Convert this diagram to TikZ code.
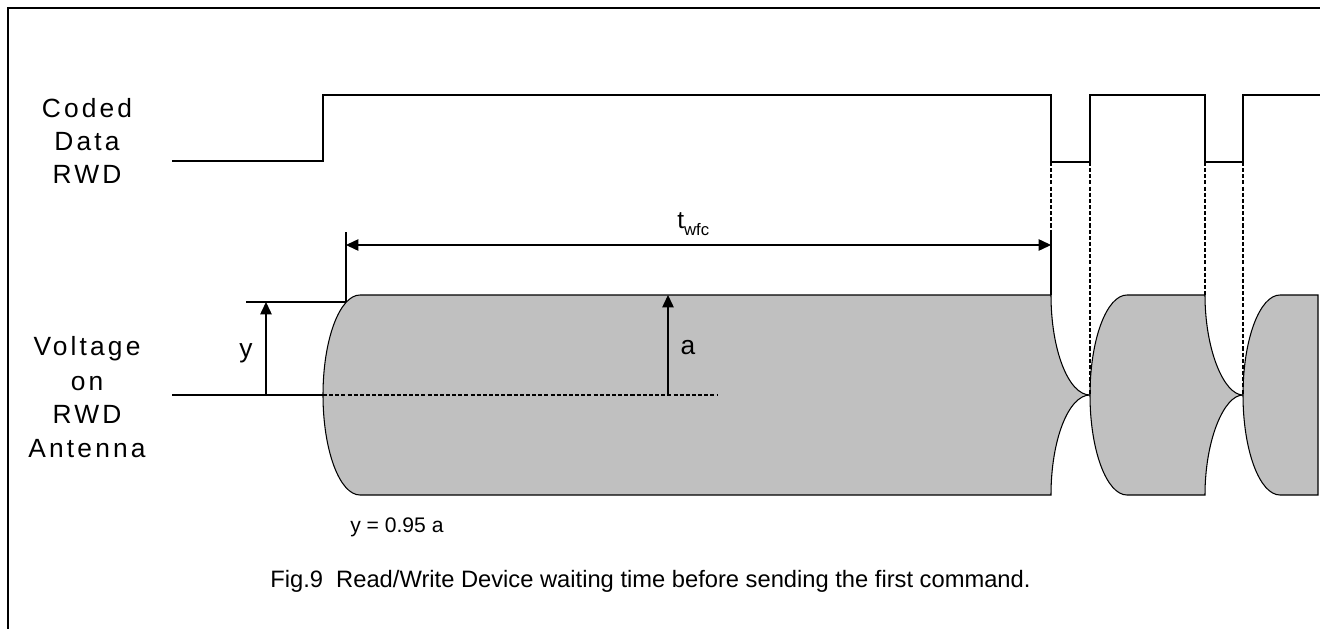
\documentclass[tikz,border=0pt]{standalone}
\usepackage{fontspec}
\setmainfont{Liberation Sans}
\newfontfamily\spacedfont[LetterSpace=12]{Liberation Sans}
\usetikzlibrary{arrows.meta}
\definecolor{envgray}{RGB}{192,192,192}
\tikzset{
	sig/.style={line width=0.6pt},
	dimarrow/.style={sig, -{Triangle[length=7pt,width=6.5pt]}},
	dimboth/.style={sig, {Triangle[length=7pt,width=6.5pt]}-{Triangle[length=7pt,width=6.5pt]}},
	guide/.style={sig, dash pattern=on 2.3pt off 1.2pt},
	envelope/.style={sig, fill=envgray},
	sidelabel/.style={anchor=base, inner sep=0pt, font=\spacedfont\fontsize{15}{18}\selectfont},
	dimlabel/.style={anchor=base, inner sep=0pt, font=\fontsize{15}{18}\selectfont},
}
\begin{document}
\begin{tikzpicture}[x=0.02cm, y=-0.02cm]
	\useasboundingbox (0,0) rectangle (1320,629);
	\draw[line width=1.1pt] (8,629) -- (8,8) -- (1320,8);

	% signal names
	\node[sidelabel] at (87,117) (cod) {Coded};
	\node[sidelabel] at (87,150) (dat) {Data};
	\node[sidelabel] at (87,183) (rwd) {RWD};
	\node[sidelabel] at (87,355) (vol) {Voltage};
	\node[sidelabel] at (87,390) (on) {on};
	\node[sidelabel] at (87,423) (rwdb) {RWD};
	\node[sidelabel] at (87,457) (ant) {Antenna};

	% coded data
	\draw[sig] (172,161) -- (323,161) -- (323,95) -- (1051,95) -- (1051,162) -- (1090,162)
		-- (1090,95) -- (1205,95) -- (1205,162) -- (1243,162) -- (1243,95) -- (1320,95);

	% antenna envelope
	\draw[envelope] (360,295) .. controls (339.6,295) and (323,339.8) .. (323,395)
		.. controls (323,450.2) and (339.6,495) .. (360,495) -- (1051,495)
		.. controls (1051,440) and (1068.5,395) .. (1090,395)
		.. controls (1068.5,395) and (1051,350) .. (1051,295) -- cycle;
	\draw[envelope] (1127,295) .. controls (1106.6,295) and (1090,339.8) .. (1090,395)
		.. controls (1090,450.2) and (1106.6,495) .. (1127,495) -- (1205,495)
		.. controls (1205,440) and (1224,395) .. (1243,395)
		.. controls (1224,395) and (1205,350) .. (1205,295) -- cycle;
	\draw[envelope] (1280,295) .. controls (1259.6,295) and (1243,339.8) .. (1243,395)
		.. controls (1243,450.2) and (1259.6,495) .. (1280,495) -- (1318,495) -- (1318,295) -- cycle;

	% reference points
	\coordinate (base0) at (172,395);
	\coordinate (base1) at (323,395);
	\coordinate (base2) at (718,395);
	\coordinate (ylow) at (266,395);
	\coordinate (yhigh) at (266,302);
	\coordinate (alow) at (668,395);
	\coordinate (ahigh) at (668,295);
	\coordinate (tleft) at (346,245);
	\coordinate (tright) at (1051,245);

	\draw[sig] (base0) -- (base1);
	\draw[guide] (base1) -- (base2);
	\draw[sig] (246,302) -- (346,302);
	\draw[sig] (346,232) -- (346,302);
	\draw[sig] (1051,232) -- (1051,295);
	\draw[guide] (1051,162) -- (1051,232);
	\draw[guide] (1090,162) -- (1090,395);
	\draw[guide] (1205,162) -- (1205,295);
	\draw[guide] (1243,162) -- (1243,395);

	\draw[dimarrow] (ylow) -- (yhigh);
	\draw[dimarrow] (alow) -- (ahigh);
	\draw[dimboth] (tleft) -- (tright);

	\node[dimlabel] at (246,357) (ylab) {y};
	\node[dimlabel] at (688,354) (alab) {a};
	\node[anchor=base west, inner sep=0pt, font=\fontsize{14}{17}\selectfont] at (677,228) (twfc)
		{t\raisebox{-0.55ex}{\fontsize{9.5}{11}\selectfont wfc}};

	\node[anchor=base west, inner sep=0pt, font=\fontsize{12}{14}\selectfont] at (350,532) (rel) {y = 0.95 a};
	\node[anchor=base west, inner sep=0pt, font=\fontsize{13.5}{16}\selectfont] at (270,587) (cap)
		{Fig.9\ \ Read/Write Device waiting time before sending the first command.};
\end{tikzpicture}
\end{document}
